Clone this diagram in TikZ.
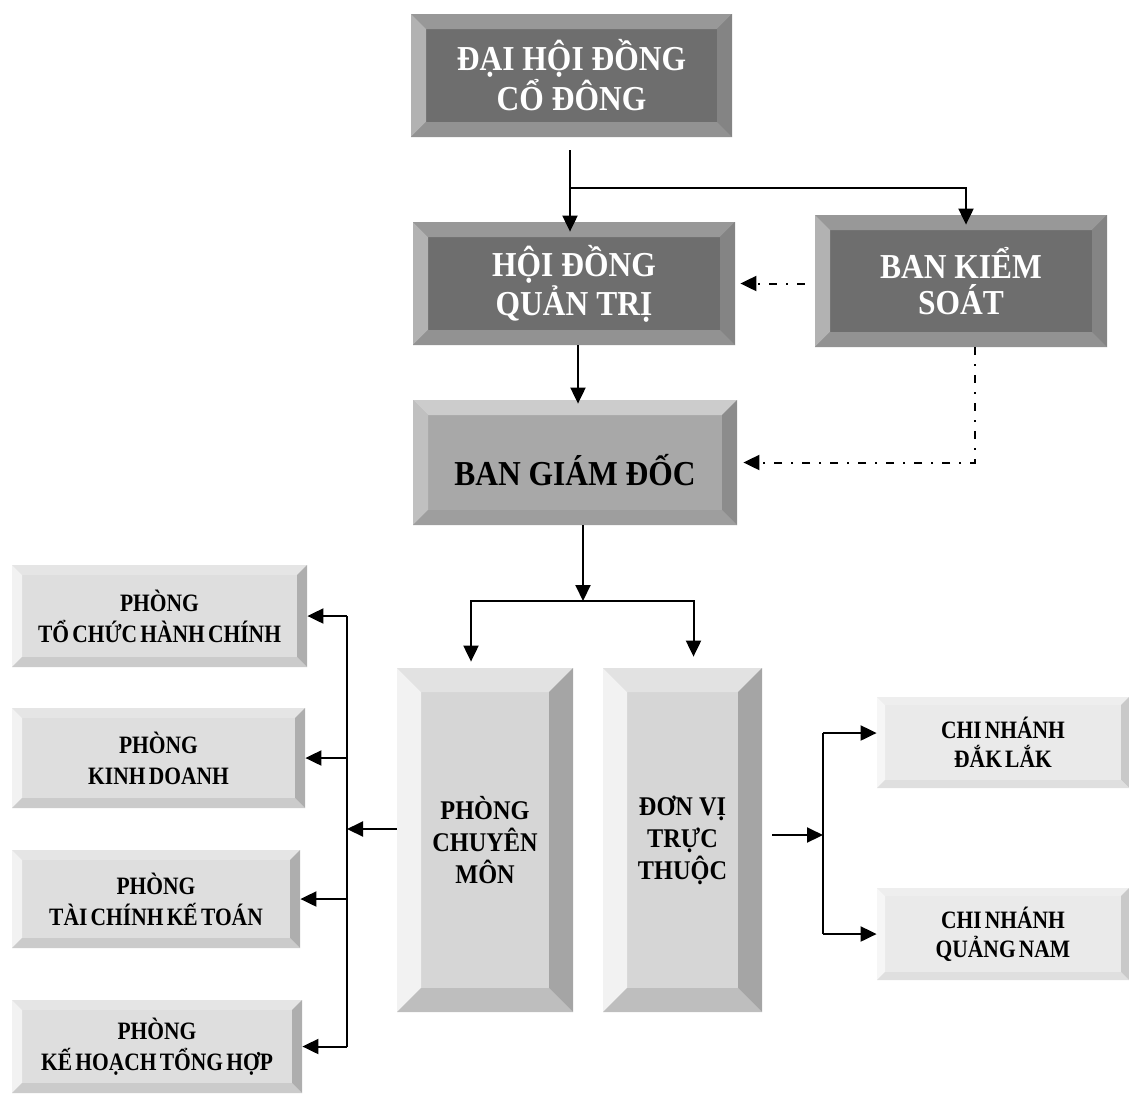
\documentclass[tikz,border=0pt]{standalone}
\usepackage{fontspec}
\setmainfont{Liberation Serif}
\newfontfamily\boxfont{Liberation Serif}[FakeStretch=0.9]
\newfontfamily\tightfont{Liberation Serif}[FakeStretch=0.86,WordSpace=0.6]
\usetikzlibrary{arrows.meta}
\definecolor{darkface}{RGB}{110,110,110}
\definecolor{darktop}{RGB}{152,152,152}
\definecolor{darkleft}{RGB}{178,178,178}
\definecolor{darkright}{RGB}{132,132,132}
\definecolor{darkbot}{RGB}{146,146,146}
\definecolor{midface}{RGB}{168,168,168}
\definecolor{midtop}{RGB}{204,204,204}
\definecolor{midleft}{RGB}{192,192,192}
\definecolor{midright}{RGB}{140,140,140}
\definecolor{midbot}{RGB}{158,158,158}
\definecolor{paleface}{RGB}{214,214,214}
\definecolor{paletop}{RGB}{226,226,226}
\definecolor{paleleft}{RGB}{242,242,242}
\definecolor{paleright}{RGB}{165,165,165}
\definecolor{palebot}{RGB}{190,190,190}
\tikzset{
  bevel/.style n args={6}{rectangle, inner sep=0pt, fill=#1, align=center,
    path picture={
      \fill[#2] (path picture bounding box.north west) -- (path picture bounding box.north east)
        -- ([shift={(-#6pt,-#6pt)}]path picture bounding box.north east)
        -- ([shift={(#6pt,-#6pt)}]path picture bounding box.north west) -- cycle;
      \fill[#3] (path picture bounding box.north west) -- (path picture bounding box.south west)
        -- ([shift={(#6pt,#6pt)}]path picture bounding box.south west)
        -- ([shift={(#6pt,-#6pt)}]path picture bounding box.north west) -- cycle;
      \fill[#4] (path picture bounding box.north east) -- (path picture bounding box.south east)
        -- ([shift={(-#6pt,#6pt)}]path picture bounding box.south east)
        -- ([shift={(-#6pt,-#6pt)}]path picture bounding box.north east) -- cycle;
      \fill[#5] (path picture bounding box.south west) -- (path picture bounding box.south east)
        -- ([shift={(-#6pt,#6pt)}]path picture bounding box.south east)
        -- ([shift={(#6pt,#6pt)}]path picture bounding box.south west) -- cycle;
    }},
  darkbox/.style={bevel={darkface}{darktop}{darkleft}{darkright}{darkbot}{7.5}, text=white,
    font=\fontsize{17.5}{18}\boxfont\bfseries},
  midbox/.style={bevel={midface}{midtop}{midleft}{midright}{midbot}{7.5},
    font=\fontsize{17.5}{18}\boxfont\bfseries},
  tallbox/.style={bevel={paleface}{paletop}{paleleft}{paleright}{palebot}{12},
    font=\fontsize{13.5}{16}\boxfont\bfseries},
  sidebox/.style={bevel={paleface!80!white}{paletop!90!white}{paleleft}{paleright!90!white}{palebot!80!white}{5},
    font=\fontsize{12.5}{15.5}\tightfont\bfseries},
  branchbox/.style={bevel={paleface!50!white}{paletop!60!white}{paleleft!70!white}{paleright!60!white}{palebot!50!white}{4},
    font=\fontsize{12.5}{14.5}\tightfont\bfseries},
  arrow/.style={line width=1pt, -{Triangle[length=8pt,width=7.5pt]}},
  dasharrow/.style={arrow, dash pattern=on 4pt off 4.5pt on 1pt off 4.5pt}
}
\begin{document}
\begin{tikzpicture}[x=0.5pt,y=-0.5pt]
  \useasboundingbox (0,0) rectangle (1129,1093);

  % top of the chart
  \node[darkbox, minimum width=160.5pt, minimum height=61.5pt] (dhcd) at (571.5,75.5) {ĐẠI HỘI ĐỒNG\\CỔ ĐÔNG};
  \node[darkbox, minimum width=161pt, minimum height=61.5pt] (hdqt) at (574,283.5) {HỘI ĐỒNG\\QUẢN TRỊ};
  \node[darkbox, minimum width=146pt, minimum height=66pt] (bks) at (961,281) {BAN KIỂM\\SOÁT};
  \node[midbox, minimum width=162pt, minimum height=62.5pt] (bgd) at (575,462.5)
    {\raisebox{-4pt}[\height][\depth]{BAN GIÁM ĐỐC}};

  % middle columns
  \node[tallbox, minimum width=88pt, minimum height=172pt] (pcm) at (485,840) {PHÒNG\\CHUYÊN\\MÔN};
  \node[tallbox, minimum width=79.5pt, minimum height=172pt] (dvtt) at (682.5,840) {ĐƠN VỊ\\TRỰC\\THUỘC};

  % departments
  \node[sidebox, minimum width=147.5pt, minimum height=51pt] (ptc) at (159.5,616) {PHÒNG\\TỔ CHỨC HÀNH CHÍNH};
  \node[sidebox, minimum width=146.5pt, minimum height=50pt] (pkd) at (158.5,758) {PHÒNG\\KINH DOANH};
  \node[sidebox, minimum width=144pt, minimum height=49pt] (ptckt) at (156,899) {PHÒNG\\TÀI CHÍNH KẾ TOÁN};
  \node[sidebox, minimum width=145pt, minimum height=46.5pt] (pkhth) at (157,1046.5) {PHÒNG\\KẾ HOẠCH TỔNG HỢP};

  % branches
  \node[branchbox, minimum width=126pt, minimum height=45.5pt] (cndl) at (1003,742.5) {CHI NHÁNH\\ĐẮK LẮK};
  \node[branchbox, minimum width=126pt, minimum height=46pt] (cnqn) at (1003,934) {CHI NHÁNH\\QUẢNG NAM};

  % connectors
  \coordinate (split) at (570,188);
  \draw[arrow, shorten <=6.5pt, shorten >=-5pt] (dhcd.south -| split) -- (split |- hdqt.north);
  \draw[arrow, shorten >=-5pt] (split) -| ([xshift=2.5pt]bks.north);
  \draw[arrow, shorten >=-2pt] ([xshift=2pt]hdqt.south) -- ([xshift=2pt]hdqt.south |- bgd.north);
  \draw[dasharrow, shorten <=5pt, shorten >=2.5pt] (bks.west |- hdqt.east) -- (hdqt.east);
  \draw[dasharrow, shorten >=3pt] ([xshift=7pt]bks.south) |- (bgd.east);

  \coordinate (fork) at (583,601);
  \draw[arrow] ([xshift=4pt]bgd.south) -- (fork);
  \draw[arrow, shorten >=3pt] (fork) -| ([xshift=-7pt]pcm.north);
  \draw[arrow, shorten >=5.5pt] (fork) -| ([xshift=5.5pt]dvtt.north);

  \coordinate (ltrunk) at (347,829);
  \draw[arrow] ([yshift=5.5pt]pcm.west) -- (ltrunk);
  \draw[line width=1pt] (ltrunk |- ptc.east) -- (ltrunk |- pkhth.east);
  \foreach \dept in {ptc,pkd,ptckt,pkhth}
    \draw[arrow] (ltrunk |- \dept.east) -- (\dept.east);

  \coordinate (rtrunk) at (823,835);
  \draw[arrow, shorten <=5pt] ([yshift=2.5pt]dvtt.east) -- (rtrunk);
  \draw[line width=1pt] (823,733) -- (rtrunk |- cnqn.west);
  \draw[arrow] (823,733) -- (cndl.west |- 0,733);
  \draw[arrow] (rtrunk |- cnqn.west) -- (cnqn.west);
\end{tikzpicture}
\end{document}
